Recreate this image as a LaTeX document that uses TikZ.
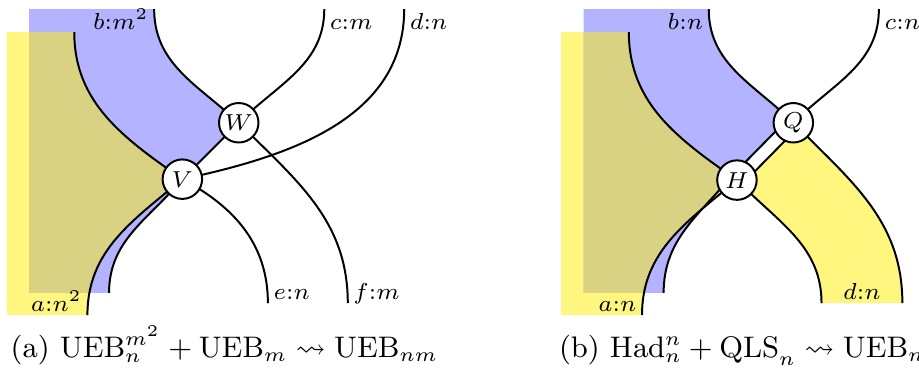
\documentclass[tikz,border=0pt]{standalone}
\usepackage{amsmath}
\usepackage{amssymb}
\usepackage{xcolor}
\usepackage{tikz}
\usetikzlibrary{backgrounds}

\definecolor{legyellow}{RGB}{255,246,128}
\definecolor{legblue}{RGB}{179,179,255}
\definecolor{legolive}{RGB}{216,210,130}

\tikzset{
    tensor/.style={circle, draw, fill=white, semithick, minimum size=0.42cm, inner sep=0pt, font=\scriptsize},
    leg/.style={semithick},
    leglabel/.style={font=\scriptsize, text height=5pt, text depth=0pt, inner xsep=1.5pt, inner ysep=1pt},
    caption/.style={anchor=base west, inner sep=0pt, font=\small},
}

\begin{document}
\begin{tikzpicture}
        \useasboundingbox (0, 0) rectangle (9.777, 3.926);

        % (a)
        \node[tensor] (W) at (2.54, 2.62) {$W$};
        \node[tensor] (V) at (1.94, 2.02) {$V$};
        \coordinate (atop) at (0.79, 3.585);
        \coordinate (abot) at (0.93, 0.574);
        \coordinate (btop) at (1.64, 3.83);
        \coordinate (bbot) at (1.16, 0.81);
        \coordinate (ctop) at (3.45, 3.83);
        \coordinate (dtop) at (4.30, 3.83);
        \coordinate (ebot) at (2.85, 0.70);
        \coordinate (fbot) at (3.70, 0.70);

        \node[leglabel, anchor=south east] (alabel) at (abot) {$a{:}n^2$};
        \node[leglabel, anchor=north east] (blabel) at (btop) {$b{:}m^2$};
        \node[leglabel, anchor=north west] (clabel) at (ctop) {$c{:}m$};
        \node[leglabel, anchor=north west] (dlabel) at (dtop) {$d{:}n$};
        \node[leglabel, anchor=south west] (elabel) at (ebot) {$e{:}n$};
        \node[leglabel, anchor=south west] (flabel) at (fbot) {$f{:}m$};

        \begin{scope}[on background layer]
            \path[save path=\ayellow] (0.07, 0.574) -- (0.07, 3.585) -- (atop) to[out=-90, in=145] (V.center) to[out=-140, in=90] (abot) -- cycle;
            \path[save path=\ablue] (0.31, 0.81) -- (0.31, 3.83) -- (btop) to[out=-90, in=137] (W.center) -- (V.center) to[out=-130, in=90] (bbot) -- cycle;
            \fill[legyellow, use path=\ayellow];
            \fill[legblue, use path=\ablue];
            \begin{scope}
                \clip[use path=\ayellow];
                \fill[legolive, use path=\ablue];
            \end{scope}

            \draw[leg] (atop) to[out=-90, in=145] (V.center) to[out=-140, in=90] (abot);
            \draw[leg] (btop) to[out=-90, in=137] (W.center) -- (V.center) to[out=-130, in=90] (bbot);
            \draw[leg] (ctop) to[out=-90, in=45] (W.center);
            \draw[leg] (dtop) to[out=-90, in=12] (V.center);
            \draw[leg] (V.center) to[out=-28, in=90] (ebot);
            \draw[leg] (W.center) to[out=-45, in=90] (fbot);
        \end{scope}

        % (b)
        \begin{scope}[xshift=5.9cm]
            \node[tensor] (Q) at (2.54, 2.62) {$Q$};
            \node[tensor] (H) at (1.94, 2.01) {$H$};
            \coordinate (atop2) at (0.79, 3.585);
            \coordinate (abot2) at (0.93, 0.574);
            \coordinate (btop2) at (1.64, 3.83);
            \coordinate (bbot2) at (1.16, 0.81);
            \coordinate (ctop2) at (3.45, 3.83);
            \coordinate (dleft) at (2.84, 0.70);
            \coordinate (dright) at (3.70, 0.70);
            \coordinate (dmid) at (3.27, 0.70);

            \node[leglabel, anchor=south east] (alabel2) at (abot2) {$a{:}n$};
            \node[leglabel, anchor=north east] (blabel2) at (btop2) {$b{:}n$};
            \node[leglabel, anchor=north west] (clabel2) at (ctop2) {$c{:}n$};
            \node[leglabel, anchor=south] (dlabel2) at (dmid) {$d{:}n$};

            \begin{scope}[on background layer]
                \path[save path=\byellow] (0.07, 0.574) -- (0.07, 3.585) -- (atop2) to[out=-90, in=145] (H.center) to[out=-140, in=90] (abot2) -- cycle;
                \path[save path=\bblue] (0.31, 0.81) -- (0.31, 3.83) -- (btop2) to[out=-90, in=137] ([shift={(-0.05,0.05)}]Q.center) -- ([shift={(-0.05,0.05)}]H.center) to[out=-130, in=90] (bbot2) -- cycle;
                \fill[legyellow, use path=\byellow];
                \fill[legblue, use path=\bblue];
                \begin{scope}
                    \clip[use path=\byellow];
                    \fill[legolive, use path=\bblue];
                \end{scope}

                \draw[leg] (atop2) to[out=-90, in=145] (H.center) to[out=-140, in=90] (abot2);
                \draw[leg] (btop2) to[out=-90, in=137] ([shift={(-0.05,0.05)}]Q.center) -- ([shift={(-0.05,0.05)}]H.center) to[out=-130, in=90] (bbot2);
                \draw[leg] (ctop2) to[out=-90, in=45] (Q.center);
                \path[leg, draw, fill=legyellow] (dleft) to[out=90, in=-45] ([shift={(0.05,-0.05)}]H.center) -- ([shift={(0.05,-0.05)}]Q.center) to[out=-45, in=90] (dright);
            \end{scope}
        \end{scope}

        \node[caption] (capa) at (0.106, 0.12) {(a) $\mathrm{UEB}^{m^2}_n + \mathrm{UEB}_m \rightsquigarrow \mathrm{UEB}_{nm}$};
        \node[caption] (capb) at (5.94, 0.12) {(b) $\mathrm{Had}^n_n + \mathrm{QLS}_n \rightsquigarrow \mathrm{UEB}_n$};
\end{tikzpicture}
\end{document}
